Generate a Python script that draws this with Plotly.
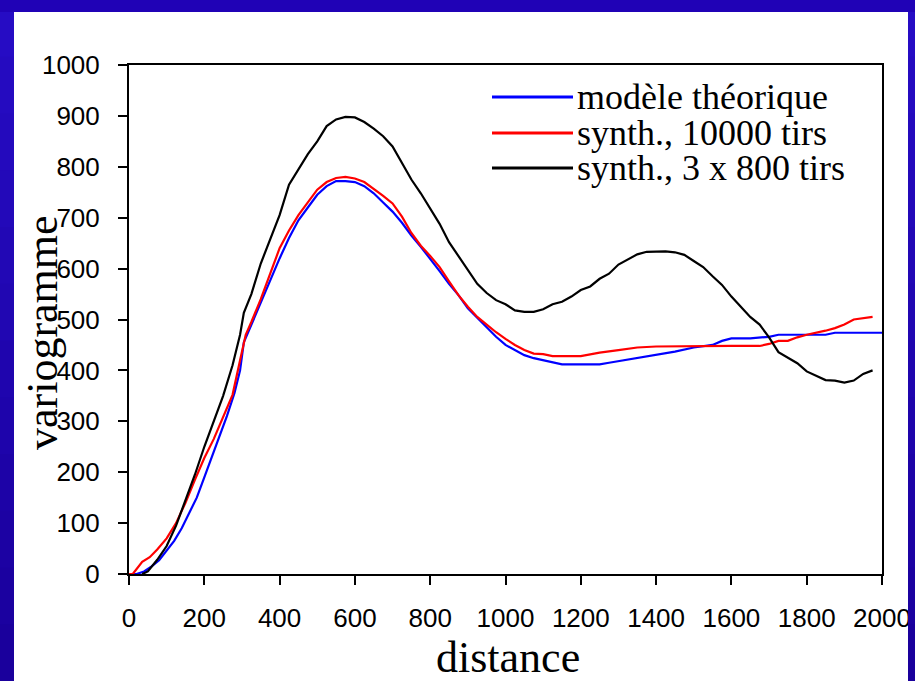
import plotly.graph_objects as go

# ---------------- data ----------------
model_x = [0, 20, 40, 60, 80, 100, 120, 140, 160, 180, 200, 220, 240, 260, 280, 295, 305, 325, 350, 375,
           400, 425, 450, 475, 500, 525, 550, 575, 600, 625, 650, 675, 700, 725, 750, 775, 800, 825,
           850, 875, 900, 925, 950, 975, 1000, 1025, 1050, 1075, 1100, 1125, 1150, 1200, 1250, 1275,
           1300, 1350, 1400, 1450, 1500, 1550, 1575, 1600, 1650, 1700, 1725, 1850, 1875, 2000]
model_y = [0, 0, 5, 15, 27, 45, 65, 90, 120, 150, 190, 230, 270, 310, 355, 400, 455, 490, 530, 575,
           620, 660, 695, 720, 745, 762, 772, 772, 770, 762, 748, 730, 712, 690, 665, 643, 620, 595,
           570, 548, 522, 503, 486, 466, 450, 440, 430, 424, 420, 415, 412, 412, 412, 415,
           418, 425, 430, 437, 445, 450, 458, 463, 463, 466, 470, 470, 474, 474]

synth10000_x = [0, 10, 35, 55, 75, 100, 125, 150, 175, 200, 225, 250, 275, 295, 310, 325, 350, 375,
                400, 425, 450, 475, 500, 525, 550, 575, 600, 625, 650, 675, 700, 725, 750, 775, 800,
                825, 850, 875, 900, 925, 950, 975, 1000, 1025, 1050, 1075, 1100, 1125, 1200, 1225,
                1250, 1300, 1350, 1400, 1500, 1600, 1675, 1700, 1725, 1750, 1775, 1800, 1850, 1875,
                1900, 1925, 1975]
synth10000_y = [0, 0, 24, 33, 48, 70, 100, 140, 185, 228, 265, 310, 352, 420, 470, 495, 540, 590,
                640, 675, 705, 730, 755, 770, 778, 780, 777, 770, 757, 743, 728, 702, 670, 645, 625,
                603, 575, 548, 525, 505, 490, 475, 462, 450, 440, 433, 432, 428, 428, 432,
                435, 440, 445, 447, 448, 448, 448, 452, 458, 458, 465, 470, 478, 483,
                490, 500, 505]

synth2400_x = [35, 50, 75, 100, 125, 150, 175, 200, 225, 250, 275, 295, 305, 325, 350, 375, 400, 425,
               450, 475, 500, 525, 550, 575, 600, 625, 650, 675, 700, 725, 750, 775, 800, 825, 850,
               875, 900, 925, 950, 975, 1000, 1025, 1050, 1075, 1100, 1125, 1150, 1175, 1200, 1225,
               1250, 1275, 1300, 1325, 1350, 1375, 1400, 1425, 1450, 1475, 1500, 1525, 1550, 1575,
               1600, 1625, 1650, 1675, 1700, 1725, 1750, 1775, 1800, 1825, 1850, 1875, 1900, 1925,
               1950, 1975]
synth2400_y = [0, 5, 28, 55, 95, 145, 195, 250, 300, 350, 410, 470, 513, 550, 610, 656, 705, 765,
               795, 825, 850, 880, 893, 898, 897, 888, 875, 860, 840, 808, 775, 748, 718, 688, 652,
               625, 598, 570, 552, 538, 530, 518, 515, 515, 520, 530, 535, 545, 558, 565,
               580, 590, 608, 618, 628, 633, 634, 634, 632, 627, 615, 603, 585, 568,
               545, 525, 505, 490, 465, 436, 425, 414, 398, 390, 381, 380, 376, 380,
               393, 400]

series_names = ["modèle théorique", "synth., 10000 tirs", "synth., 3 x 800 tirs"]
series_colors = ["#0000FF", "#FF0000", "#000000"]

x_ticks = [0, 200, 400, 600, 800, 1000, 1200, 1400, 1600, 1800, 2000]
y_ticks = [0, 100, 200, 300, 400, 500, 600, 700, 800, 900, 1000]

x_title = "distance"
y_title = "variogramme"

# ---------------- layout geometry (pixels) ----------------
W, H = 915, 681
PL, PR, PT, PB = 129, 882, 65, 574  # plot area edges


def px_x(p):
    return (p - PL) / (PR - PL)


def px_y(p):
    return (PB - p) / (PB - PT)


fig = go.Figure()
for xs, ys, name, col in zip([model_x, synth10000_x, synth2400_x],
                             [model_y, synth10000_y, synth2400_y],
                             series_names, series_colors):
    fig.add_trace(go.Scatter(x=xs, y=ys, mode="lines", name=name,
                             line=dict(color=col, width=2.2), showlegend=False))

tick_font = dict(family="Liberation Sans, Arial", size=26, color="black")
serif = "Liberation Serif, Times New Roman, serif"

axis_common = dict(showgrid=False, zeroline=False, showline=True, linecolor="black", linewidth=2,
                   mirror=True, ticks="outside", ticklen=9, tickwidth=2, tickcolor="black",
                   tickfont=tick_font, automargin=False)

fig.update_layout(
    width=W, height=H,
    margin=dict(l=PL, r=W - PR, t=PT, b=H - PB, autoexpand=False),
    paper_bgcolor="white", plot_bgcolor="white",
    showlegend=False,
    xaxis=dict(range=[0, 2000], tickvals=x_ticks, ticktext=[str(v) for v in x_ticks],
               ticklabelstandoff=11, **axis_common),
    yaxis=dict(range=[0, 1000], tickvals=y_ticks, ticktext=[str(v) for v in y_ticks],
               ticklabelstandoff=13, **axis_common),
)

# axis titles
fig.add_annotation(xref="paper", yref="paper", x=px_x(508), y=px_y(657),
                   xanchor="center", yanchor="middle", showarrow=False,
                   text=x_title, font=dict(family=serif, size=44, color="black"))
fig.add_annotation(xref="paper", yref="paper", x=px_x(42), y=px_y(333),
                   xanchor="center", yanchor="middle", showarrow=False, textangle=-90,
                   text=y_title, font=dict(family=serif, size=44, color="black"))

# manual legend (lines + text)
legend_rows = [97, 133, 168]
for name, col, ry in zip(series_names, series_colors, legend_rows):
    fig.add_shape(type="line", xref="paper", yref="paper",
                  x0=px_x(492), x1=px_x(573), y0=px_y(ry), y1=px_y(ry),
                  line=dict(color=col, width=3))
    fig.add_annotation(xref="paper", yref="paper", x=px_x(575), y=px_y(ry),
                       xanchor="left", yanchor="middle", showarrow=False,
                       text=name, font=dict(family=serif, size=36, color="black"))

# blue frame border around the slide (slight vertical gradient)
n_bands = 12
top_rgb = (0x26, 0x0C, 0xC4)
bot_rgb = (0x1A, 0x00, 0x9C)
for i in range(n_bands):
    t = i / (n_bands - 1)
    col = "rgb({},{},{})".format(*[round(a + (b - a) * t) for a, b in zip(top_rgb, bot_rgb)])
    y0, y1 = H * i / n_bands, H * (i + 1) / n_bands + 1
    for x0, x1 in [(0, 14), (908, W)]:
        fig.add_shape(type="rect", xref="paper", yref="paper", layer="above",
                      x0=px_x(x0), x1=px_x(x1), y0=px_y(y0), y1=px_y(y1),
                      line=dict(width=0), fillcolor=col)
fig.add_shape(type="rect", xref="paper", yref="paper", layer="above",
              x0=px_x(0), x1=px_x(W), y0=px_y(0), y1=px_y(12),
              line=dict(width=0), fillcolor="rgb(32,2,182)")

fig.write_html("out.html")
